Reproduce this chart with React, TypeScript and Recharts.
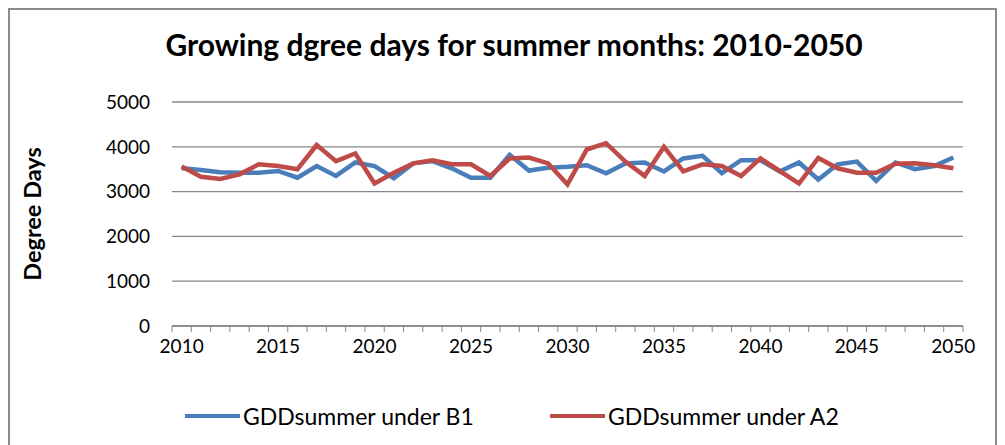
import React from "react";
import { LineChart, Line, XAxis, YAxis, CartesianGrid } from "recharts";

// chart values
const years = [
  2010, 2011, 2012, 2013, 2014, 2015, 2016, 2017, 2018, 2019, 2020,
  2021, 2022, 2023, 2024, 2025, 2026, 2027, 2028, 2029, 2030,
  2031, 2032, 2033, 2034, 2035, 2036, 2037, 2038, 2039, 2040,
  2041, 2042, 2043, 2044, 2045, 2046, 2047, 2048, 2049, 2050,
];
const gddB1 = [
  3520, 3480, 3430, 3420, 3420, 3460, 3310, 3570, 3350, 3650, 3570,
  3300, 3630, 3680, 3520, 3310, 3310, 3820, 3470, 3530, 3555,
  3590, 3410, 3630, 3650, 3450, 3740, 3800, 3410, 3700, 3700,
  3450, 3650, 3270, 3610, 3670, 3240, 3650, 3500, 3570, 3760,
];
const gddA2 = [
  3560, 3330, 3280, 3385, 3610, 3570, 3500, 4040, 3680, 3850, 3180,
  3420, 3630, 3700, 3610, 3610, 3350, 3740, 3760, 3630, 3160,
  3940, 4080, 3670, 3350, 4000, 3450, 3610, 3570, 3350, 3740,
  3460, 3180, 3750, 3520, 3420, 3420, 3620, 3630, 3590, 3520,
];
const seriesNames = ["GDDsummer under B1", "GDDsummer under A2"];
const seriesColors = ["#4A7EBB", "#BE4B48"];
const yTicks = [0, 1000, 2000, 3000, 4000, 5000];
const labelYears = [2010, 2015, 2020, 2025, 2030, 2035, 2040, 2045, 2050];

const FONT = "Lato, 'Open Sans', sans-serif";
const W = 989;
const H = 437;
const M = { top: 94, right: 34, left: 14, bottom: 89 };
const Y_AXIS_W = 150;
const PLOT_W = W - M.left - M.right - Y_AXIS_W;
const HALF_BAND = PLOT_W / years.length / 2;

// tick marks sit between categories, so boundaries are year - 0.5
const boundaries = [...years.map((y) => y - 0.5), years[years.length - 1] + 0.5];

const data = years.map((year, i) => ({ year, b1: gddB1[i], a2: gddA2[i] }));

const YearTick = ({ x, y, payload }: any) => {
  const year = payload.value + 0.5;
  if (!labelYears.includes(year)) return null;
  return (
    <text
      x={x + HALF_BAND}
      y={y + 6}
      dy="0.71em"
      textAnchor="middle"
      fill="#000"
      style={{ fontFamily: FONT, fontSize: 19 }}
    >
      {year}
    </text>
  );
};

export default function App() {
  return (
    <div
      style={{
        position: "relative",
        width: W,
        height: H,
        boxSizing: "border-box",
        borderTop: "2px solid #8c8c8c",
        borderLeft: "2px solid #8c8c8c",
        borderRight: "2px solid #8c8c8c",
        background: "#fff",
        fontFamily: FONT,
      }}
    >
      <div
        style={{
          position: "absolute",
          left: 22,
          width: 964,
          top: 16,
          textAlign: "center",
          fontWeight: 700,
          fontSize: 30,
          color: "#000",
        }}
      >
        Growing dgree days for summer months: 2010-2050
      </div>

      <div style={{ position: "absolute", left: -2, top: -2 }}>
        <LineChart width={W} height={H} data={data} margin={M}>
          <CartesianGrid vertical={false} stroke="#868686" strokeWidth={1.3} />
          <XAxis
            dataKey="year"
            type="number"
            domain={[boundaries[0], boundaries[boundaries.length - 1]]}
            ticks={boundaries}
            interval={0}
            height={30}
            tick={<YearTick />}
            tickSize={6}
            axisLine={{ stroke: "#868686", strokeWidth: 1.3 }}
            tickLine={{ stroke: "#868686", strokeWidth: 1 }}
          />
          <YAxis
            domain={[0, 5000]}
            ticks={yTicks}
            interval={0}
            width={Y_AXIS_W}
            axisLine={false}
            tickLine={false}
            tickSize={0}
            tickMargin={22}
            tick={{ fill: "#000", fontFamily: FONT, fontSize: 19 }}
            label={{
              value: "Degree Days",
              angle: -90,
              position: "insideLeft",
              offset: 11,
              style: { textAnchor: "middle", fontFamily: FONT, fontSize: 23.5, fontWeight: 700, fill: "#000" },
            }}
          />
          <Line
            type="linear"
            dataKey="b1"
            name={seriesNames[0]}
            stroke={seriesColors[0]}
            strokeWidth={4.5}
            dot={false}
            isAnimationActive={false}
          />
          <Line
            type="linear"
            dataKey="a2"
            name={seriesNames[1]}
            stroke={seriesColors[1]}
            strokeWidth={4.5}
            dot={false}
            isAnimationActive={false}
          />
        </LineChart>
      </div>

      {/* legend drawn by hand so it does not eat plot space */}
      <div style={{ position: "absolute", left: 175, top: 392, display: "flex" }}>
        {seriesNames.map((name, i) => (
          <div key={name} style={{ width: 365, display: "flex", alignItems: "center" }}>
            <div style={{ width: 55, height: 4.5, background: seriesColors[i], marginRight: 3 }} />
            <span style={{ fontSize: 23, color: "#000" }}>{name}</span>
          </div>
        ))}
      </div>
    </div>
  );
}
